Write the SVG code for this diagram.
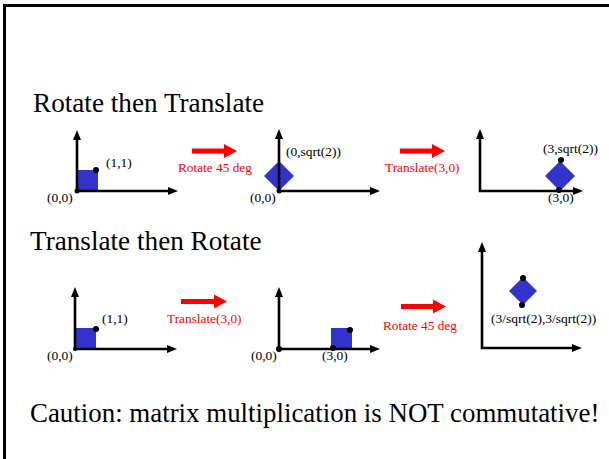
<svg xmlns="http://www.w3.org/2000/svg" width="609" height="459" viewBox="0 0 609 459">
<style>
text{font-family:"Liberation Serif","Times New Roman",serif;}
.title{font-size:27.2px;fill:#000;}
.cau{font-size:26.9px;fill:#000;}
.lbl{font-size:13.5px;fill:#000;}
.rl{font-size:13.3px;fill:#ff0000;}
.ax{stroke:#000;stroke-width:2.6;fill:none;}
.ah{fill:#000;}
.sq{fill:#3333cc;}
.dot{fill:#000;}
.ra{fill:#ff0000;}
</style>
<rect x="0" y="0" width="609" height="459" fill="#fff"/>
<path d="M4.5,460 V5.5 H610" stroke="#000" stroke-width="3" fill="none"/>

<text class="title" x="33" y="112">Rotate then Translate</text>
<text class="title" x="30" y="250">Translate then Rotate</text>
<text class="cau" x="30" y="422">Caution: matrix multiplication is NOT commutative!</text>

<g id="panel1">
<rect class="sq" x="77" y="170" width="21" height="21"/>
<path class="ax" d="M77,138 V191 H170"/>
<path class="ah" d="M77,130 L81,140 L73,140 Z"/>
<path class="ah" d="M178,191 L168,187 L168,195 Z"/>
<circle class="dot" cx="77" cy="191" r="2.5"/>
<circle class="dot" cx="96" cy="170" r="3"/>
<text class="lbl" x="106" y="167">(1,1)</text>
<text class="lbl" x="47" y="202">(0,0)</text>
</g>

<g id="panel2">
<path class="sq" d="M279,161 L294,176 L279,191 L264,176 Z"/>
<path class="ax" d="M279,137 V191 H372"/>
<path class="ah" d="M279,129 L283,139 L275,139 Z"/>
<path class="ah" d="M380,191 L370,187 L370,195 Z"/>
<circle class="dot" cx="279" cy="191" r="2.5"/>
<text class="lbl" x="286" y="156">(0,sqrt(2))</text>
<text class="lbl" x="250" y="202">(0,0)</text>
</g>

<g id="panel3">
<path class="sq" d="M560,161 L575,176 L560,191 L545,176 Z"/>
<path class="ax" d="M480,137 V191 H575"/>
<path class="ah" d="M480,129 L484,139 L476,139 Z"/>
<path class="ah" d="M583,191 L573,187 L573,195 Z"/>
<circle class="dot" cx="561" cy="160" r="3"/>
<circle class="dot" cx="559" cy="190" r="3"/>
<text class="lbl" x="543" y="153">(3,sqrt(2))</text>
<text class="lbl" x="548" y="202">(3,0)</text>
</g>

<g id="panel4">
<rect class="sq" x="75" y="328" width="21" height="21"/>
<path class="ax" d="M75,295 V349 H169"/>
<path class="ah" d="M75,287 L79,297 L71,297 Z"/>
<path class="ah" d="M177,349 L167,345 L167,353 Z"/>
<circle class="dot" cx="75" cy="349" r="2"/>
<circle class="dot" cx="96" cy="329" r="3"/>
<text class="lbl" x="102" y="323">(1,1)</text>
<text class="lbl" x="47" y="360">(0,0)</text>
</g>

<g id="panel5">
<rect class="sq" x="331" y="328" width="21" height="21"/>
<path class="ax" d="M279,295 V349 H371"/>
<path class="ah" d="M279,287 L283,297 L275,297 Z"/>
<path class="ah" d="M380,349 L370,345 L370,353 Z"/>
<circle class="dot" cx="279" cy="349" r="3"/>
<circle class="dot" cx="333" cy="348" r="3"/>
<circle class="dot" cx="350" cy="330" r="3"/>
<text class="lbl" x="251" y="360">(0,0)</text>
<text class="lbl" x="322" y="360">(3,0)</text>
</g>

<g id="panel6">
<path class="sq" d="M523,277 L537,291 L523,305 L509,291 Z"/>
<path class="ax" d="M482,250 V348 H574"/>
<path class="ah" d="M482,242 L486,252 L478,252 Z"/>
<path class="ah" d="M582,348 L572,344 L572,352 Z"/>
<circle class="dot" cx="523" cy="278" r="3"/>
<circle class="dot" cx="522" cy="305" r="3"/>
<text class="lbl" x="491" y="323">(3/sqrt(2),3/sqrt(2))</text>
</g>

<g id="connectors">
<path class="ra" d="M192,148.5 H224 V144 L237,151 L224,158 V153.5 H192 Z"/>
<text class="rl" x="178" y="172">Rotate 45 deg</text>
<path class="ra" d="M400,148.5 H432 V144 L445,151 L432,158 V153.5 H400 Z"/>
<text class="rl" x="385" y="172">Translate(3,0)</text>
<path class="ra" d="M181,299 H214 V294.5 L227,301.5 L214,308.5 V304 H181 Z"/>
<text class="rl" x="167" y="323">Translate(3,0)</text>
<path class="ra" d="M401,304 H433 V299.5 L446,306.5 L433,313.5 V309 H401 Z"/>
<text class="rl" x="383" y="330">Rotate 45 deg</text>
</g>
</svg>
